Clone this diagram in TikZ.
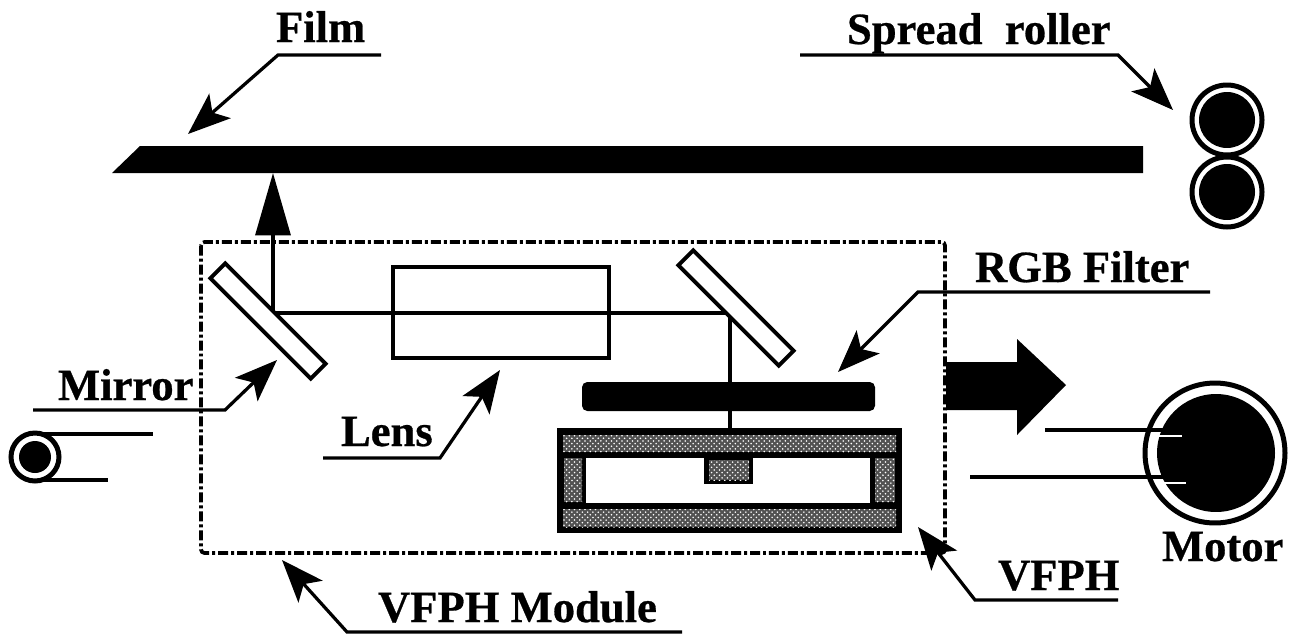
\documentclass[tikz,border=0pt]{standalone}
\usepackage{fontspec}
\setmainfont[BoldFeatures={FakeBold=0.6}]{Liberation Serif}
\usepackage{tikz}
\usetikzlibrary{arrows.meta, patterns}
\tikzset{every node/.append style={inner sep=0pt, outer sep=0pt}}

\begin{document}
\begin{tikzpicture}[
    x=0.02cm, y=-0.02cm,
    font=\fontsize{25.4}{28}\selectfont\bfseries,
    lbl/.style={anchor=base west},
    thin line/.style={line width=0.7mm},
    a/.style={-{Stealth[length=8.5mm, width=6.5mm, inset=2mm]}, line width=0.65mm, line join=miter},
    mirror/.style={rectangle, draw=black, fill=white, line width=0.8mm,
        minimum width=2.84cm, minimum height=0.42cm, rotate=-45},
    hatchbox/.style={preaction={fill=black!68}, pattern=crosshatch dots, pattern color=white},
    rollerout/.style={circle, draw=black, fill=white, line width=1mm},
    rollerin/.style={circle, fill=black}
]
\useasboundingbox (0,0) rectangle (1290,636);
\fill[white] (0,0) rectangle (1290,636);

% film and rollers
\fill (112,173) -- (140,146) -- (1143,146) -- (1143,173) -- cycle;
\coordinate (filmhit) at (273,173);
\node[rollerout, minimum size=1.4cm] (rollA) at (1227,120) {};
\node[rollerout, minimum size=1.4cm] (rollB) at (1227,192) {};
\node[rollerin, minimum size=1.12cm] (rollAc) at (1227,120) {};
\node[rollerin, minimum size=1.12cm] (rollBc) at (1227,192) {};

% feed roller
\coordinate (feedA) at (153,434);
\coordinate (feedB) at (108,480);
\coordinate (feedC) at (35,434);
\coordinate (feedD) at (35,480);
\draw[thin line] (feedC) -- (feedA);
\draw[thin line] (feedD) -- (feedB);
\node[rollerout, minimum size=0.96cm] (feed) at (35,457) {};
\node[rollerin, minimum size=0.64cm] (feedc) at (35,457) {};

% module
\draw[line width=0.75mm, rounded corners=2pt, dash pattern=on 2mm off 0.6mm on 0.6mm off 0.6mm]
    (201,242) rectangle (945,553);

% beam
\coordinate (bendA) at (273,313);
\coordinate (bendB) at (730,313);
\coordinate (vfphtop) at (730,430);
\draw[thin line] (bendA) -- (bendB) -- (vfphtop);
\draw[-{Triangle[length=12.5mm, width=7mm]}, line width=0.7mm] (bendA) -- (filmhit);
\node[mirror] (mirrorA) at (268,321) {};
\node[mirror] (mirrorB) at (736,308) {};
\node[rectangle, draw=black, line width=0.7mm, fill=none, minimum width=4.32cm, minimum height=1.82cm] (lens) at (501,312.5) {};

% filter and head
\fill[rounded corners=3pt] (582,382) rectangle (875,411);
\fill (557,428) rectangle (902,533);
\fill[white] (586,458) rectangle (870,503);
\fill (704,458) rectangle (753,484);
\fill[hatchbox] (563,435) rectangle (896,452);
\fill[hatchbox] (563,509) rectangle (896,527);
\fill[hatchbox] (564,458) rectangle (582,502);
\fill[hatchbox] (875,458) rectangle (895,502);
\fill[hatchbox] (709,460) rectangle (749,480);

% scan direction
\fill (946,362) -- (1017,362) -- (1017,339) -- (1066,385) -- (1017,435) -- (1017,410) -- (946,410) -- cycle;

% motor
\node[rollerout, minimum size=2.8cm] (motor) at (1215,453) {};
\node[rollerin, minimum size=2.36cm] (motorc) at (1216,453) {};
\coordinate (motorA) at (1045,430);
\coordinate (motorB) at (970,477);
\draw[thin line] (motorA) -- ++(140,0);
\draw[thin line] (motorB) -- ++(215,0);
\draw[white, line width=0.3mm] (1155,436) -- (1182,436);
\draw[white, line width=0.3mm] (1155,483) -- (1186,483);

% labels
\node[lbl] (lfilm) at (276,42) {Film};
\coordinate (ka) at (381,55);
\coordinate (kb) at (278,55);
\coordinate (ta) at (188,134);
\draw[a] (ka) -- (kb) -- (ta);

\node[lbl] (lroller) at (847,44) {Spread\ \ roller};
\coordinate (kc) at (800,55);
\coordinate (kd) at (1118,55);
\coordinate (tb) at (1173,110);
\draw[a] (kc) -- (kd) -- (tb);

\node[lbl] (lrgb) at (975,282) {RGB Filter};
\coordinate (ke) at (1210,292);
\coordinate (kf) at (918,292);
\coordinate (tc) at (838,372);
\draw[a] (ke) -- (kf) -- (tc);

\node[lbl] (lmirror) at (58,400) {Mirror};
\coordinate (kg) at (33,410);
\coordinate (kh) at (225,410);
\coordinate (td) at (277,360);
\draw[a] (kg) -- (kh) -- (td);

\node[lbl] (llens) at (341,446) {Lens};
\coordinate (ki) at (323,458);
\coordinate (kj) at (440,458);
\coordinate (te) at (500,370);
\draw[a] (ki) -- (kj) -- (te);

\node[lbl] (lvfph) at (998,590) {VFPH};
\coordinate (kk) at (1118,600);
\coordinate (kl) at (975,600);
\coordinate (tf) at (918,527);
\draw[a] (kk) -- (kl) -- (tf);

\node[lbl] (lmodule) at (378,622) {VFPH Module};
\coordinate (km) at (682,632);
\coordinate (kn) at (347,632);
\coordinate (tg) at (282,560);
\draw[a] (km) -- (kn) -- (tg);

\node[lbl] (lmotor) at (1162,561) {Motor};
\end{tikzpicture}
\end{document}
